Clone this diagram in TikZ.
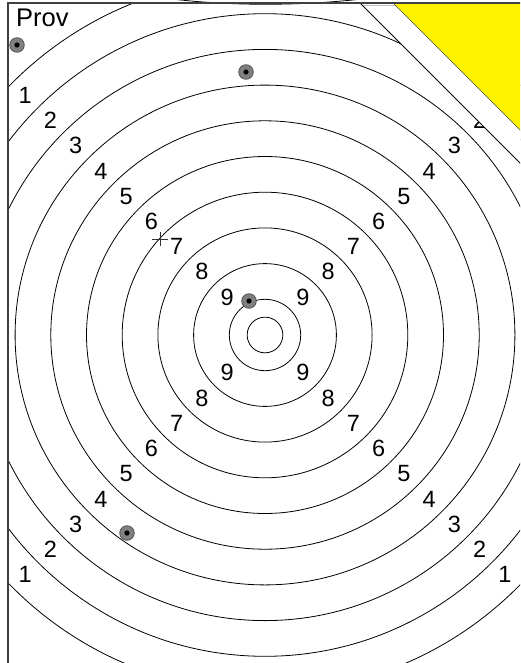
\documentclass[tikz,border=0pt]{standalone}
\usepackage{fontspec}
\setmainfont{Liberation Sans}
\usetikzlibrary{calc}
\begin{document}
\begin{tikzpicture}[x=1pt,y=-1pt,
  ring/.style={draw=black,line width=0.8pt},
  num/.style={inner sep=0pt,font=\fontsize{23.5}{24}\selectfont},
  shot/.style={circle,draw=black!65,line width=0.9pt,fill=black!50,minimum size=14.5pt,inner sep=0pt,
    path picture={\fill[black] (path picture bounding box.center) circle (2.6pt);}},
  frameline/.style={draw=black!75,line width=1.6pt},
  cutline/.style={draw=black,line width=0.9pt}]
\useasboundingbox (0,0) rectangle (520,663);
\clip (0,0) rectangle (520,663);
\fill[white] (0,0) rectangle (520,663);
\coordinate (c) at (265,335);
\begin{scope}
\clip (8,3) rectangle (520,663);
% rings
\draw[ring] (c) circle (17.85pt);
\foreach \k in {0,...,9}{
  \pgfmathsetmacro\r{(10-\k)*35.7}
  \draw[ring] (c) circle (\r pt);
}
% labels
\foreach \k in {1,...,9}{
  \pgfmathsetmacro\d{(10.5-\k)*35.7/sqrt(2)}
  \node[num] (ul\k) at ($(c)+(-\d,-\d)$) {\k};
  \node[num] (ur\k) at ($(c)+(\d,-\d)$) {\k};
  \node[num] (ll\k) at ($(c)+(-\d,\d)$) {\k};
  \node[num] (lr\k) at ($(c)+(\d,\d)$) {\k};
}
% cross mark
\coordinate (x) at (160,239);
\draw[black!80,line width=0.7pt] ($(x)+(-8,0)$) -- ($(x)+(8,0)$) ($(x)+(0,-7)$) -- ($(x)+(0,7)$);
% cut corner
\coordinate (d1) at (360,3);
\coordinate (d2) at (530,173);
\fill[white] (d1) -- (530,3) -- (d2) -- cycle;
\draw[black!25,line width=0.6pt] (363,5) -- (520,5);
\draw[cutline] (d1) -- (d2);
\coordinate (y1) at (393,3);
\coordinate (y2) at (530,140);
\fill[yellow] (y1) -- (530,3) -- (y2) -- cycle;
\draw[black!70,line width=0.6pt] (y1) -- (y2);
\end{scope}
% arc above frame
\draw[black,line width=0.8pt] (172,-1) .. controls (230,6) and (300,6) .. (362,-1);
% frame
\draw[frameline] (8,670) -- (8,3) -- (525,3);
% shots
\node[shot] (s1) at (17,45) {};
\node[shot] (s2) at (246,72) {};
\node[shot] (s3) at (249,301) {};
\node[shot] (s4) at (127,533) {};
\node[anchor=base west,inner sep=0pt,font=\fontsize{25.5}{26}\selectfont] (prov) at (16,27) {Prov};
\end{tikzpicture}
\end{document}
